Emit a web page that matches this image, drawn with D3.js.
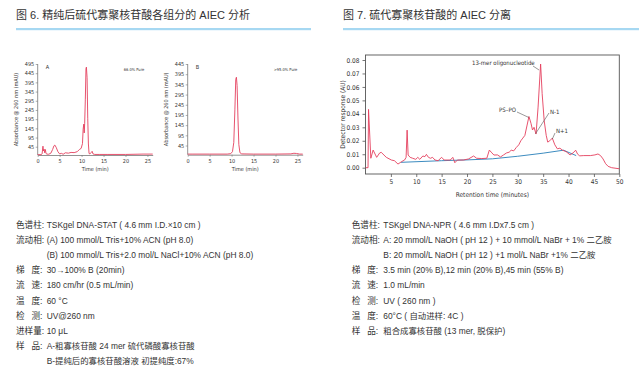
<!DOCTYPE html>
<html><head><meta charset="utf-8">
<script src="https://cdn.jsdelivr.net/npm/d3@7"></script>
<style>
html,body{margin:0;padding:0;background:#fff;}
svg{display:block;}
.t{font-family:"Liberation Sans","Noto Sans CJK SC",sans-serif;fill:#333;}
.n{font-family:"Liberation Sans Narrow","DejaVu Sans Condensed","Liberation Sans",sans-serif;fill:#333;}
</style></head>
<body>
<svg id="c" width="643" height="377"></svg>
<script>
// ---------- DATA ----------
const titles = ["图 6. 精纯后硫代寡聚核苷酸各组分的 AIEC 分析", "图 7. 硫代寡聚核苷酸的 AIEC 分离"];

// Chart 6A: time (min), absorbance (mAU)
const timeA = [0,0.8,1.0,1.2,1.3,1.45,1.6,1.75,1.9,2.1,2.5,3.0,3.4,3.7,3.9,4.2,4.6,5.0,5.4,5.8,6.3,7.0,7.6,8.3,9.0,9.5,9.9,10.2,10.35,10.5,10.6,10.7,10.85,11.0,11.1,11.25,11.4,11.55,11.7,11.9,12.2,12.4,12.6,13.0,14,16,20,24,26.2];
const absA  = [2,2,6,48,22,32,12,30,8,5,4,10,30,50,54,42,18,6,9,4,12,10,14,13,18,30,36,62,140,168,120,170,300,470,478,420,200,60,8,6,14,20,6,3,3,3,3,5,5];
const yTicksA = [45,95,145,195,245,295,345,395,445,495];

// Chart 6B
const timeB = [0,1,5,9,9.8,10.2,10.5,10.75,10.95,11.1,11.25,11.45,11.65,11.9,12.3,15,20,23.5,24.2,24.8,25.5,26.2];
const absB  = [3,3,3,3,5,15,60,220,370,380,340,180,50,10,4,3,3,4,7,6,3,3];
const yTicksB = [45,95,145,195,245,295,345,395,445];

const xTicks6 = [0,5,10,15,20,25];

// Chart 7: retention time (min), detector response (AU)
const time7 = [0.05,0.5,0.6,1.05,1.5,2.2,2.8,3.1,4.1,5.1,5.7,6.4,7.1,7.7,8.0,8.2,8.4,8.8,9.3,9.9,10.3,10.7,11.3,11.7,12.0,12.4,12.8,13.2,13.7,14.3,15.0,15.5,16.7,17.2,17.6,18.1,19.3,20.3,21.3,21.9,22.9,23.9,24.4,24.9,25.3,26.0,26.6,27.2,27.8,28.3,28.7,29.2,29.7,30.2,30.6,31.0,31.4,31.8,32.2,32.6,32.9,33.2,33.6,34.0,34.5,34.8,35.2,35.6,35.9,36.3,36.8,37.3,37.8,38.3,38.8,39.5,40.3,40.9,41.4,41.8,42.2,43.0,44.3,45.2,45.8,46.3,46.8,47.3,47.8,48.5,50];
const resp7 = [0.0,0.0,0.0433,0.007,0.0131,0.0077,0.011,0.0114,0.0077,0.0057,0.0052,0.0027,0.0045,0.0057,0.0077,0.0279,0.0094,0.0077,0.007,0.0062,0.0077,0.0062,0.0087,0.0082,0.0099,0.0077,0.007,0.0077,0.0057,0.0052,0.0077,0.0057,0.0057,0.0077,0.0037,0.0057,0.0057,0.0065,0.0087,0.007,0.0068,0.007,0.0131,0.011,0.0094,0.0095,0.008,0.0095,0.011,0.0115,0.013,0.0125,0.015,0.017,0.020,0.022,0.024,0.031,0.038,0.033,0.028,0.030,0.025,0.045,0.077,0.055,0.035,0.024,0.019,0.020,0.022,0.017,0.014,0.0145,0.013,0.012,0.0095,0.011,0.013,0.010,0.0088,0.009,0.009,0.0095,0.0102,0.009,0.0065,0.003,0.001,0.0,-0.0008];
const timeBase7 = [7,15,20,25,30,35,39,41.5];
const respBase7 = [0.004,0.0052,0.0058,0.0066,0.0085,0.0108,0.013,0.009];
const xTicks7 = [5,10,15,20,25,30,35,40,45,50];
const yTicks7 = [0,0.01,0.02,0.03,0.04,0.05,0.06,0.07,0.08];
const peakLabels = ["13-mer oligonucleotide","PS–PO","N-1","N+1"];
const peakTimes = [34.5,32.2,33.5,36.8];
const peakResp  = [0.077,0.038,0.026,0.022];

const infoLeft = [
  ["色谱柱:", "TSKgel DNA-STAT ( 4.6 mm I.D.×10 cm )"],
  ["流动相:", "(A) 100 mmol/L Tris+10% ACN (pH 8.0)"],
  ["", "(B) 100 mmol/L Tris+2.0 mol/L NaCl+10% ACN (pH 8.0)"],
  ["梯 度:", "30→100% B (20min)"],
  ["流 速:", "180 cm/hr (0.5 mL/min)"],
  ["温 度:", "60 °C"],
  ["检 测:", "UV@260 nm"],
  ["进样量:", "10 μL"],
  ["样 品:", "A-粗寡核苷酸 24 mer 硫代磷酸寡核苷酸"],
  ["", "B-提纯后的寡核苷酸溶液  初提纯度:67%"]
];
const infoRight = [
  ["色谱柱:", "TSKgel DNA-NPR ( 4.6 mm I.Dx7.5 cm )"],
  ["流动相:", "A: 20 mmol/L NaOH ( pH 12 ) + 10 mmol/L NaBr + 1% 二乙胺"],
  ["", "B: 20 mmol/L NaOH ( pH 12 ) +1 mol/L NaBr +1% 二乙胺"],
  ["梯 度:", "3.5 min (20% B),12 min (20% B),45 min (55% B)"],
  ["流 速:", "1.0 mL/min"],
  ["检 测:", "UV ( 260 nm )"],
  ["温 度:", "60°C ( 自动进样: 4C )"],
  ["样 品:", "粗合成寡核苷酸 (13 mer, 脱保护)"]
];

// ---------- DRAW ----------
const svg = d3.select("#c");
const RED = "#e4405e", BLUE = "#3d8cc0";

// titles + rules
[[16,311],[343,639]].forEach((p,i)=>{
  svg.append("text").attr("class","t").attr("x",p[0]).attr("y",19)
    .style("font-size","11px").style("fill","#333").text(titles[i]);
  svg.append("rect").attr("x",p[0]).attr("y",28).attr("width",p[1]-p[0]).attr("height",2.2)
    .attr("fill","#a6d8f2");
});

function small(x0,x1,yTop,yBot,yMax,times,vals,yT,letter,pure){
  const x = d3.scaleLinear().domain([0,26.2]).range([x0,x1]);
  const y = d3.scaleLinear().domain([0,yMax]).range([yBot,yTop]);
  const g = svg.append("g");
  const ax = g.append("g").attr("transform",`translate(0,${yBot})`)
    .call(d3.axisBottom(x).tickValues(xTicks6).tickSize(2).tickPadding(2).tickSizeOuter(0));
  const ay = g.append("g").attr("transform",`translate(${x0},0)`)
    .call(d3.axisLeft(y).tickValues(yT).tickSize(2).tickPadding(1.5).tickSizeOuter(0));
  [ax,ay].forEach(a=>{
    a.select(".domain").attr("stroke","#777").attr("stroke-width",0.8);
    a.selectAll(".tick line").attr("stroke","#777").attr("stroke-width",0.6);
    a.selectAll("text").attr("class","n").style("font-size","5.5px").attr("fill","#444");
  });
  ay.select(".domain").attr("d",`M0,${yTop}V${yBot}`);
  const line = d3.line().x((d,i)=>x(times[i])).y(d=>y(d));
  g.append("path").datum(vals).attr("d",line).attr("fill","none")
    .attr("stroke",RED).attr("stroke-width",0.9).attr("stroke-linejoin","round");
  g.append("text").attr("class","n").attr("x",(x0+x1)/2).attr("y",yBot+16)
    .attr("text-anchor","middle").style("font-size","5.5px").text("Time (min)");
  g.append("text").attr("class","n")
    .attr("transform",`translate(${x0-20},${(yTop+yBot)/2}) rotate(-90)`)
    .attr("text-anchor","middle").style("font-size","5.5px").text("Absorbance @ 260 nm (mAU)");
  g.append("text").attr("class","n").attr("x",x0+8).attr("y",yTop+5).style("font-size","5.5px").text(letter);
  g.append("text").attr("class","n").attr("x",x0+86).attr("y",yTop+7).style("font-size","4px").text(pure);
}
small(37.7,152.7,64,155,495,timeA,absA,yTicksA,"A","66.0% Pure");
small(187.7,302.7,64,154.7,445,timeB,absB,yTicksB,"B",">95.0% Pure");

// Chart 7
(function(){
  const L=365.5,R=619.3,T=55,B=174;
  const x = d3.scaleLinear().domain([0,50]).range([L,R]);
  const y = d3.scaleLinear().domain([0,0.08]).range([167.7,60]);
  const g = svg.append("g");
  g.append("rect").attr("x",L).attr("y",T).attr("width",R-L).attr("height",B-T)
    .attr("fill","none").attr("stroke","#555").attr("stroke-width",0.9);
  const ax = g.append("g").attr("transform",`translate(0,${B})`)
    .call(d3.axisBottom(x).tickValues(xTicks7).tickSize(3).tickPadding(2).tickSizeOuter(0));
  const ay = g.append("g").attr("transform",`translate(${L},0)`)
    .call(d3.axisLeft(y).tickValues(yTicks7).tickFormat(d3.format(".2f")).tickSize(3).tickPadding(3).tickSizeOuter(0));
  [ax,ay].forEach(a=>{
    a.select(".domain").remove();
    a.selectAll(".tick line").attr("stroke","#555").attr("stroke-width",0.8);
    a.selectAll("text").attr("class","n").style("font-size","6.5px").attr("fill","#444");
  });
  g.append("path").datum(respBase7)
    .attr("d",d3.line().x((d,i)=>x(timeBase7[i])).y(d=>y(d)))
    .attr("fill","none").attr("stroke",BLUE).attr("stroke-width",1);
  g.append("path").datum(resp7)
    .attr("d",d3.line().x((d,i)=>x(time7[i])).y(d=>y(d)))
    .attr("fill","none").attr("stroke",RED).attr("stroke-width",0.9).attr("stroke-linejoin","round");
  g.append("text").attr("class","n").attr("x",(L+R)/2).attr("y",197)
    .attr("text-anchor","middle").style("font-size","6.5px").text("Retention time (minutes)");
  g.append("text").attr("class","n")
    .attr("transform",`translate(345,${(T+B)/2}) rotate(-90)`)
    .attr("text-anchor","middle").style("font-size","6.5px").text("Detector response (AU)");
  const lab = [
    {tx:472, ty:65, lx1:533, ly1:66},
    {tx:499, ty:112, lx1:517, ly1:112},
    {tx:550, ty:114, lx1:549, ly1:113},
    {tx:556, ty:133, lx1:555, ly1:133}
  ];
  peakLabels.forEach((t,i)=>{
    const o = lab[i];
    g.append("text").attr("class","n").attr("x",o.tx).attr("y",o.ty)
      .style("font-size","6px").text(t);
    g.append("line").attr("x1",o.lx1).attr("y1",o.ly1)
      .attr("x2",x(peakTimes[i])-(i===0?1.5:0)).attr("y2",y(peakResp[i])+(i===0?6:1))
      .attr("stroke","#555").attr("stroke-width",0.6);
  });
})();

// info blocks
function info(rows,xl,xv){
  rows.forEach((r,i)=>{
    const yy = 227.5 + i*15.2;
    if(r[0]){
      const lab = r[0];
      if(lab.indexOf(" ")>0){
        svg.append("text").attr("class","t").attr("x",xl).attr("y",yy).style("font-size","8.6px").text(lab[0]);
        svg.append("text").attr("class","t").attr("x",xl+15.5).attr("y",yy).style("font-size","8.6px").text(lab.slice(2));
      } else {
        svg.append("text").attr("class","t").attr("x",xl).attr("y",yy).style("font-size","8.6px").text(lab);
      }
    }
    svg.append("text").attr("class","t").attr("x",xv).attr("y",yy).style("font-size","8.4px").text(r[1]);
  });
}
info(infoLeft,16,46.7);
info(infoRight,351.7,383.3);
</script>
</body></html>
